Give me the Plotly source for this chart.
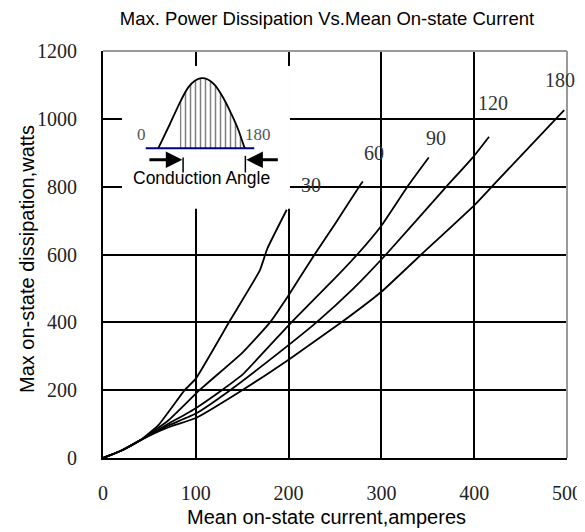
import plotly.graph_objects as go

# ---- data ----
x30 = [0, 20, 40, 60, 88, 100, 137, 169, 177, 198]
y30 = [0, 22, 52, 98, 200, 234, 406, 553, 617, 732]

x60 = [0, 20, 40, 70, 104, 150, 180, 200, 228, 250, 276, 280]
y60 = [0, 22, 52, 110, 200, 310, 400, 480, 600, 690, 800, 815]

x90 = [0, 20, 40, 70, 100, 128, 150, 203, 250, 274, 300, 328, 351]
y90 = [0, 22, 52, 100, 147, 200, 245, 400, 530, 600, 685, 800, 886]

x120 = [0, 20, 40, 70, 100, 137, 180, 230, 270, 305, 370, 400, 416]
y120 = [0, 22, 52, 95, 131, 200, 290, 400, 500, 600, 800, 891, 947]

x180 = [0, 20, 40, 70, 100, 150, 200, 257, 300, 343, 400, 419, 488, 497]
y180 = [0, 22, 52, 90, 118, 200, 290, 400, 490, 600, 745, 800, 1000, 1026]

curve_names = ["30", "60", "90", "120", "180"]
label_x = [224, 292, 359, 420, 492]
label_y = [804, 899, 943, 1048, 1114]

x_ticks = [0, 100, 200, 300, 400, 500]
y_ticks = [0, 200, 400, 600, 800, 1000, 1200]

# inset (conduction angle sketch), in data units of the main axes
hump_x = [59.5, 72, 82.8, 91.7, 99, 106, 113, 120.4, 129.4, 138.4, 145.5, 152.7]
hump_y = [913, 984, 1048, 1092, 1112, 1120, 1116, 1100, 1063, 1014, 970, 913]
base_x = [46, 163]
base_y = [913, 913]
hatch_start = 2
inset_box = [20.5, 201.5, 735, 1156]

# page body has an 8px margin: figure is offset by 8px and sized to the window
W, H = 577, 524
L, R, T, B = 95, 18, 43, 74
PW, PH = W - L - R, H - T - B

fig = go.Figure()

xs = [x30, x60, x90, x120, x180]
ys = [y30, y60, y90, y120, y180]
for xv, yv, nm in zip(xs, ys, curve_names):
    fig.add_trace(go.Scatter(x=xv, y=yv, mode="lines", name=nm,
                             line=dict(color="black", width=1.8, shape="spline", smoothing=0.4),
                             showlegend=False, hoverinfo="skip"))

# hatched part of the inset hump
hx = [hump_x[hatch_start]] + hump_x[hatch_start:] + [hump_x[hatch_start]]
hy = [base_y[0]] + hump_y[hatch_start:] + [base_y[0]]
fig.add_trace(go.Scatter(x=hx, y=hy, mode="lines", fill="toself",
                         fillcolor="white",
                         fillpattern=dict(shape="|", size=5, solidity=0.3,
                                          fgcolor="black", bgcolor="white"),
                         line=dict(width=0), showlegend=False, hoverinfo="skip"))
# hump outline
fig.add_trace(go.Scatter(x=hump_x, y=hump_y, mode="lines",
                         line=dict(color="black", width=1.8, shape="spline", smoothing=0.5),
                         showlegend=False, hoverinfo="skip"))
# baseline
fig.add_trace(go.Scatter(x=base_x, y=base_y, mode="lines",
                         line=dict(color="#000080", width=2),
                         showlegend=False, hoverinfo="skip"))
# small vertical marks at the arrow heads
fig.add_trace(go.Scatter(x=[86.3, 86.3, None, 153.4, 153.4],
                         y=[842, 886, None, 842, 891], mode="lines",
                         line=dict(color="black", width=1.5),
                         showlegend=False, hoverinfo="skip"))

shapes = [
    dict(type="rect", xref="x", yref="y", x0=inset_box[0], x1=inset_box[1],
         y0=inset_box[2], y1=inset_box[3], fillcolor="white", line=dict(width=0),
         layer="between"),
    dict(type="line", xref="paper", yref="paper", x0=0, x1=1, y0=1, y1=1,
         line=dict(color="#9a9a9a", width=2), layer="above"),
    dict(type="line", xref="paper", yref="paper", x0=1, x1=1, y0=0, y1=1,
         line=dict(color="#9a9a9a", width=2), layer="above"),
]

annotations = []
for nm, lx, ly in zip(curve_names, label_x, label_y):
    annotations.append(dict(x=lx, y=ly, xref="x", yref="y", text=nm, showarrow=False,
                            font=dict(family="Liberation Serif", size=20, color="#333333")))
annotations += [
    dict(x=41.5, y=953, xref="x", yref="y", text="0", showarrow=False,
         font=dict(family="Liberation Serif", size=17, color="#555555")),
    dict(x=166.7, y=953, xref="x", yref="y", text="180", showarrow=False,
         font=dict(family="Liberation Serif", size=17, color="#555555")),
    dict(x=106, y=827, xref="x", yref="y", text="Conduction Angle", showarrow=False,
         font=dict(family="Liberation Sans", size=17.5, color="black")),
    dict(x=85.5, y=879, ax=48.4, ay=879, xref="x", yref="y", axref="x", ayref="y",
         text="", showarrow=True, arrowhead=2, arrowsize=1.1, arrowwidth=3, arrowcolor="black"),
    dict(x=154.5, y=879, ax=190, ay=879, xref="x", yref="y", axref="x", ayref="y",
         text="", showarrow=True, arrowhead=2, arrowsize=1.1, arrowwidth=3, arrowcolor="black"),
    # axis titles
    dict(x=(326 - 8 - L) / PW, y=-(517 - 8 - T - PH) / PH, xref="paper", yref="paper",
         text="Mean on-state current,amperes", showarrow=False,
         xanchor="center", yanchor="middle",
         font=dict(family="Liberation Sans", size=20, color="black")),
    dict(x=-(L - 19) / PW, y=1 - (259 - 8 - T) / PH, xref="paper", yref="paper",
         text="Max on-state dissipation,watts", showarrow=False, textangle=-90,
         xanchor="center", yanchor="middle",
         font=dict(family="Liberation Sans", size=20, color="black")),
]

fig.update_layout(
    width=W, height=H,
    margin=dict(l=L, r=R, t=T, b=B),
    paper_bgcolor="white", plot_bgcolor="white",
    title=dict(text="Max. Power Dissipation Vs.Mean On-state Current",
               x=319 / W, xanchor="center", y=1 - 11 / H, yanchor="middle",
               automargin=False,
               font=dict(family="Liberation Sans", size=18.5, color="black")),
    shapes=shapes, annotations=annotations,
    showlegend=False,
)
fig.update_xaxes(range=[0, 500], tickvals=x_ticks, ticktext=[str(v) for v in x_ticks],
                 automargin=False,
                 showgrid=True, gridcolor="black", gridwidth=1.5, zeroline=False,
                 showline=True, linecolor="black", linewidth=2, ticks="",
                 ticklabelstandoff=16,
                 tickfont=dict(family="Liberation Serif", size=20, color="#222222"))
fig.update_yaxes(range=[0, 1200], tickvals=y_ticks, ticktext=[str(v) for v in y_ticks],
                 automargin=False,
                 showgrid=True, gridcolor="black", gridwidth=1.5, zeroline=False,
                 showline=True, linecolor="black", linewidth=2, ticks="",
                 ticklabelstandoff=20,
                 tickfont=dict(family="Liberation Serif", size=20, color="#222222"))

fig.write_html("out.html")
